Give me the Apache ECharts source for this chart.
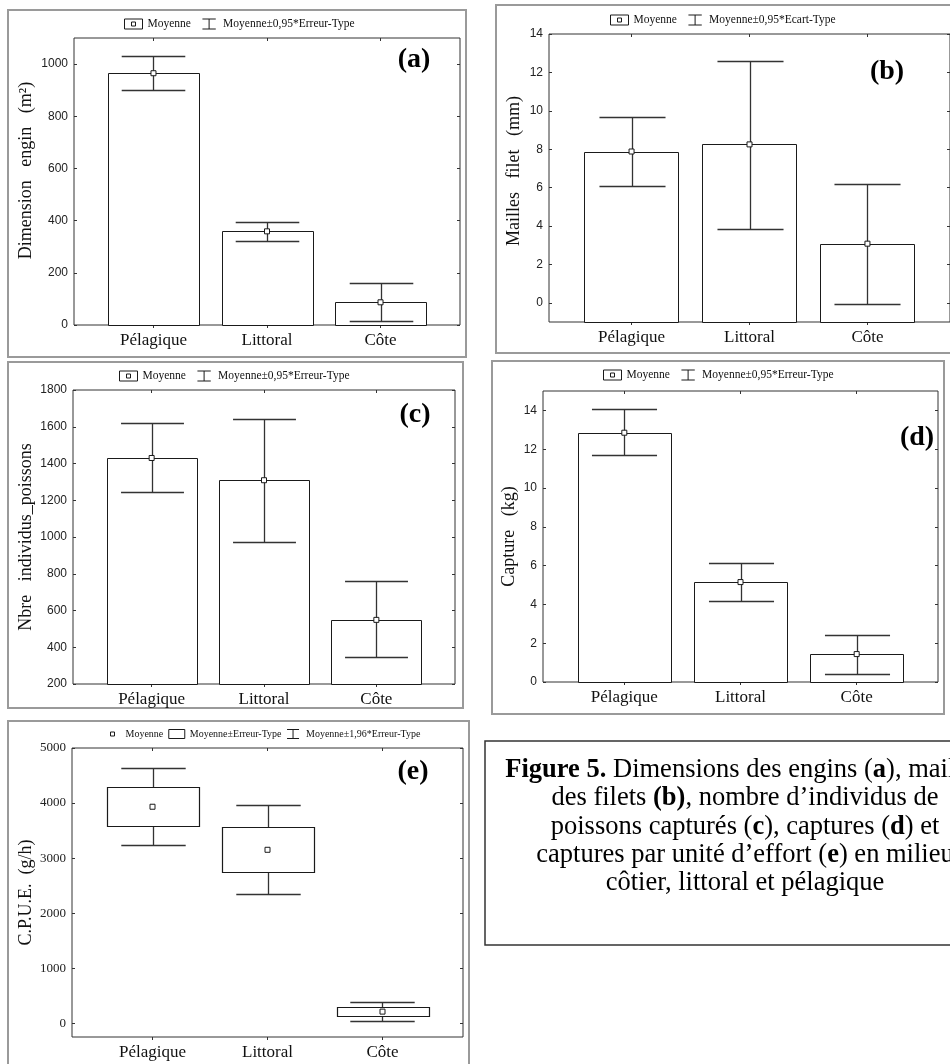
<!DOCTYPE html>
<html><head><meta charset="utf-8">
<script src="https://cdn.jsdelivr.net/npm/echarts@6/dist/echarts.min.js"></script>
<style>html,body{margin:0;padding:0;background:#fff}#chart{width:950px;height:1064px}</style>
</head><body><div id="chart"></div>
<script>
// ---------- data ----------
const categories = ['Pélagique', 'Littoral', 'Côte'];
// (a) Dimension engin (m²)
const dimMean = [965, 359, 87];
const dimLow = [899, 323, 17];
const dimHigh = [1031, 395, 160];
const dimTicks = [0, 200, 400, 600, 800, 1000];
// (b) Mailles filet (mm)
const maillesMean = [7.88, 8.25, 3.08];
const maillesLow = [6.06, 3.86, -0.04];
const maillesHigh = [9.67, 12.61, 6.2];
const maillesTicks = [0, 2, 4, 6, 8, 10, 12, 14];
// (c) Nbre individus_poissons
const poissonsMean = [1430, 1309, 549];
const poissonsLow = [1245, 975, 345];
const poissonsHigh = [1622, 1644, 758];
const poissonsTicks = [200, 400, 600, 800, 1000, 1200, 1400, 1600, 1800];
// (d) Capture (kg)
const captureMean = [12.85, 5.15, 1.44];
const captureLow = [11.7, 4.2, 0.41];
const captureHigh = [14.05, 6.12, 2.43];
const captureTicks = [0, 2, 4, 6, 8, 10, 12, 14];
// (e) C.P.U.E. (g/h)
const cpueMean = [3933, 3151, 211];
const cpueSeLow = [3575, 2745, 133];
const cpueSeHigh = [4291, 3564, 302];
const cpueCiLow = [3229, 2351, 42];
const cpueCiHigh = [4636, 3956, 387];
const cpueTicks = [0, 1000, 2000, 3000, 4000, 5000];

// ---------- layout / styles ----------
const SERIF = '"Liberation Serif", "Times New Roman", serif';
const SANS = '"Liberation Sans", Arial, sans-serif';
const INK = '#1a1a1a';

const panels = [
  { kind: 'bar', grid: { left: 74, top: 38, width: 386, height: 287 }, yMin: 0, yMax: 1100, yTicks: dimTicks,
    yName: 'Dimension   engin   (m²)', nameGap: 39, namePad: 22, mean: dimMean, low: dimLow, high: dimHigh,
    errName: 'Moyenne±0,95*Erreur-Type', legend: { left: 124, top: 18, font: 11.5, gap: 11 },
    tag: { text: '(a)', x: 414, y: 60 }, frame: [8, 10, 458, 347], tickFont: SANS, tickSize: 12 },
  { kind: 'bar', grid: { left: 549, top: 34, width: 402, height: 288 }, yMin: -1, yMax: 14, yTicks: maillesTicks,
    yName: 'Mailles   filet   (mm)', nameGap: 26, namePad: 14, mean: maillesMean, low: maillesLow, high: maillesHigh,
    errName: 'Moyenne±0,95*Ecart-Type', legend: { left: 610, top: 14, font: 11.5, gap: 11 },
    tag: { text: '(b)', x: 887, y: 72 }, frame: [496, 5, 460, 348], tickFont: SANS, tickSize: 12 },
  { kind: 'bar', grid: { left: 73, top: 390, width: 382, height: 294 }, yMin: 200, yMax: 1800, yTicks: poissonsTicks,
    yName: 'Nbre   individus_poissons', nameGap: 38, namePad: 0, mean: poissonsMean, low: poissonsLow, high: poissonsHigh,
    errName: 'Moyenne±0,95*Erreur-Type', legend: { left: 119, top: 370, font: 11.5, gap: 11 },
    tag: { text: '(c)', x: 415, y: 415 }, frame: [8, 362, 455, 346], tickFont: SANS, tickSize: 12 },
  { kind: 'bar', grid: { left: 543, top: 391, width: 395, height: 291 }, yMin: 0, yMax: 15, yTicks: captureTicks,
    yName: 'Capture   (kg)', nameGap: 25, namePad: 0, mean: captureMean, low: captureLow, high: captureHigh,
    errName: 'Moyenne±0,95*Erreur-Type', legend: { left: 603, top: 369, font: 11.5, gap: 11 },
    tag: { text: '(d)', x: 917, y: 438 }, frame: [492, 361, 452, 353], tickFont: SANS, tickSize: 12 },
  { kind: 'box', grid: { left: 72, top: 748, width: 391, height: 289 }, yMin: -250, yMax: 5000, yTicks: cpueTicks,
    yName: 'C.P.U.E.  (g/h)', nameGap: 37, namePad: 0, mean: cpueMean, seLow: cpueSeLow, seHigh: cpueSeHigh, ciLow: cpueCiLow, ciHigh: cpueCiHigh,
    legend: { left: 104, top: 729, font: 10, gap: 5 },
    tag: { text: '(e)', x: 413, y: 772 }, frame: [8, 721, 461, 360], tickFont: SERIF, tickSize: 13 }
];

const ICON_MEAN_BOX = 'path://M0,0H18V10H0ZM7,3H11V7H7Z';
const ICON_ERR = 'path://M1,0H17M9,0V12M1,12H17';
const ICON_MEAN_SMALL = 'path://M0,0M16,9M6,2.5H10V6.5H6Z';
const ICON_BOX = 'path://M0,0H16V9H0Z';
const iconStyle = { color: '#fff', borderColor: INK, borderWidth: 1 };

function barRender(yMin) {
  return function (params, api) {
    const x = api.value(0), v = api.value(1);
    const tl = api.coord([x - 0.4, v]);
    const br = api.coord([x + 0.4, yMin]);
    const x0 = Math.round(tl[0]) + 0.5, y0 = Math.round(tl[1]) + 0.5;
    return { type: 'rect', shape: { x: x0, y: y0, width: Math.round(br[0] - tl[0]), height: Math.round(br[1]) - Math.round(tl[1]) },
      style: { fill: '#fff', stroke: INK, lineWidth: 1 } };
  };
}
function errRender(params, api) {
  const x = api.value(0), lo = api.value(1), hi = api.value(2);
  const pl = api.coord([x, lo]), ph = api.coord([x, hi]);
  const half = api.size([0.28, 0])[0];
  const cx = Math.round(pl[0]) + 0.5;
  const yl = Math.round(pl[1]) + 0.5, yh = Math.round(ph[1]) + 0.5;
  const st = { stroke: '#333', lineWidth: 1.3 };
  return { type: 'group', children: [
    { type: 'line', shape: { x1: cx, y1: yl, x2: cx, y2: yh }, style: st },
    { type: 'line', shape: { x1: cx - half, y1: yl, x2: cx + half, y2: yl }, style: st },
    { type: 'line', shape: { x1: cx - half, y1: yh, x2: cx + half, y2: yh }, style: st }
  ] };
}
function boxRender(params, api) {
  const x = api.value(0), lo = api.value(1), hi = api.value(2);
  const tl = api.coord([x - 0.4, hi]);
  const br = api.coord([x + 0.4, lo]);
  return { type: 'rect', shape: { x: Math.round(tl[0]) + 0.5, y: Math.round(tl[1]) + 0.5, width: Math.round(br[0] - tl[0]), height: Math.round(br[1]) - Math.round(tl[1]) },
    style: { fill: '#fff', stroke: INK, lineWidth: 1.2 } };
}

const grids = [], xAxes = [], yAxes = [], series = [], legends = [], graphics = [];
const xTicks = categories.map((c, k) => k + 1);

panels.forEach((p, i) => {
  grids.push(Object.assign({ show: true, borderColor: '#333', borderWidth: 1, backgroundColor: 'transparent' }, p.grid));
  xAxes.push({ type: 'value', gridIndex: i, position: 'bottom', min: 0.3, max: 3.7,
    axisLine: { show: false, onZero: false }, splitLine: { show: false },
    axisTick: { show: true, inside: false, length: 3, customValues: xTicks, lineStyle: { color: '#333' } },
    axisLabel: { customValues: xTicks, formatter: v => categories[Math.round(v) - 1] || '', margin: 7,
      fontFamily: SERIF, fontSize: 17, color: '#111' } });
  xAxes.push({ type: 'value', gridIndex: i, position: 'top', min: 0.3, max: 3.7,
    axisLine: { show: false, onZero: false }, splitLine: { show: false }, axisLabel: { show: false },
    axisTick: { show: true, inside: true, length: 3, customValues: xTicks, lineStyle: { color: '#333' } } });
  yAxes.push({ type: 'value', gridIndex: i, position: 'left', min: p.yMin, max: p.yMax,
    name: p.yName, nameLocation: 'middle', nameGap: p.nameGap,
    nameTextStyle: { fontFamily: SERIF, fontSize: 18, color: '#111', padding: [0, 0, 0, p.namePad] },
    axisLine: { show: false, onZero: false }, splitLine: { show: false },
    axisTick: { show: true, inside: true, length: 3, customValues: p.yTicks, lineStyle: { color: '#333' } },
    axisLabel: { customValues: p.yTicks, margin: 6, formatter: v => String(v),
      fontFamily: p.tickFont, fontSize: p.tickSize, color: '#222' } });
  yAxes.push({ type: 'value', gridIndex: i, position: 'right', min: p.yMin, max: p.yMax,
    axisLine: { show: false, onZero: false }, splitLine: { show: false }, axisLabel: { show: false },
    axisTick: { show: true, inside: true, length: 3, customValues: p.yTicks, lineStyle: { color: '#333' } } });

  const xi = 2 * i, yi = 2 * i;
  const meanData = p.mean.map((m, k) => [k + 1, m]);
  if (p.kind === 'bar') {
    series.push({ type: 'custom', name: 'Barres', xAxisIndex: xi, yAxisIndex: yi, z: 2,
      renderItem: barRender(p.yMin), encode: { x: 0, y: 1 }, data: meanData });
    series.push({ type: 'custom', name: p.errName, xAxisIndex: xi, yAxisIndex: yi, z: 3,
      renderItem: errRender, encode: { x: 0, y: [1, 2] }, data: p.low.map((l, k) => [k + 1, l, p.high[k]]) });
    legends.push({ left: p.legend.left, top: p.legend.top, padding: 0, orient: 'horizontal', selectedMode: false,
      itemWidth: 18, itemHeight: 10, itemGap: p.legend.gap,
      textStyle: { fontFamily: SERIF, fontSize: p.legend.font, color: '#111' },
      data: [ { name: 'Moyenne', icon: ICON_MEAN_BOX, itemStyle: iconStyle },
              { name: p.errName, icon: ICON_ERR, itemStyle: iconStyle } ] });
  } else {
    series.push({ type: 'custom', name: 'Moyenne±1,96*Erreur-Type', xAxisIndex: xi, yAxisIndex: yi, z: 2,
      renderItem: errRender, encode: { x: 0, y: [1, 2] }, data: p.ciLow.map((l, k) => [k + 1, l, p.ciHigh[k]]) });
    series.push({ type: 'custom', name: 'Moyenne±Erreur-Type', xAxisIndex: xi, yAxisIndex: yi, z: 3,
      renderItem: boxRender, encode: { x: 0, y: [1, 2] }, data: p.seLow.map((l, k) => [k + 1, l, p.seHigh[k]]) });
    legends.push({ left: p.legend.left, top: p.legend.top, padding: 0, orient: 'horizontal', selectedMode: false,
      itemWidth: 16, itemHeight: 9, itemGap: p.legend.gap,
      textStyle: { fontFamily: SERIF, fontSize: p.legend.font, color: '#111' },
      data: [ { name: 'Moyenne', icon: ICON_MEAN_SMALL, itemStyle: iconStyle },
              { name: 'Moyenne±Erreur-Type', icon: ICON_BOX, itemStyle: iconStyle },
              { name: 'Moyenne±1,96*Erreur-Type', icon: ICON_ERR, itemStyle: iconStyle } ] });
  }
  series.push({ type: 'scatter', name: 'Moyenne', xAxisIndex: xi, yAxisIndex: yi, z: 4,
    symbol: 'rect', symbolSize: 5, itemStyle: { color: '#fff', borderColor: INK, borderWidth: 1, opacity: 1 },
    data: meanData });

  graphics.push({ type: 'rect', shape: { x: p.frame[0], y: p.frame[1], width: p.frame[2], height: p.frame[3] },
    style: { fill: 'none', stroke: '#9a9a9a', lineWidth: 2 }, silent: true, z: 0 });
  graphics.push({ type: 'text', x: p.tag.x, y: p.tag.y, silent: true, z: 10,
    style: { text: p.tag.text, fill: '#000', font: 'bold 28px ' + SERIF, textAlign: 'center', textVerticalAlign: 'middle' } });
});

// caption
graphics.push({ type: 'rect', shape: { x: 485, y: 741, width: 480, height: 204 },
  style: { fill: 'none', stroke: '#333', lineWidth: 1.5 }, silent: true });
graphics.push({ type: 'text', x: 745, y: 756, silent: true,
  style: {
    text: '{b|Figure 5.} Dimensions des engins ({b|a}), mailles\ndes filets {b|(b)}, nombre d’individus de\npoissons capturés ({b|c}), captures ({b|d}) et\ncaptures par unité d’effort ({b|e}) en milieu\ncôtier, littoral et pélagique',
    fill: '#000', fontFamily: SERIF, fontSize: 26.5, lineHeight: 28.3, textAlign: 'center', textVerticalAlign: 'top',
    rich: { b: { fontWeight: 'bold', fontFamily: SERIF, fontSize: 26.5, lineHeight: 28.3, fill: '#000' } }
  } });

const chart = echarts.init(document.getElementById('chart'), null, { renderer: 'canvas', width: 950, height: 1064 });
chart.setOption({
  animation: false,
  backgroundColor: '#fff',
  grid: grids, xAxis: xAxes, yAxis: yAxes, series: series, legend: legends,
  graphic: { elements: graphics }
});
</script></body></html>
